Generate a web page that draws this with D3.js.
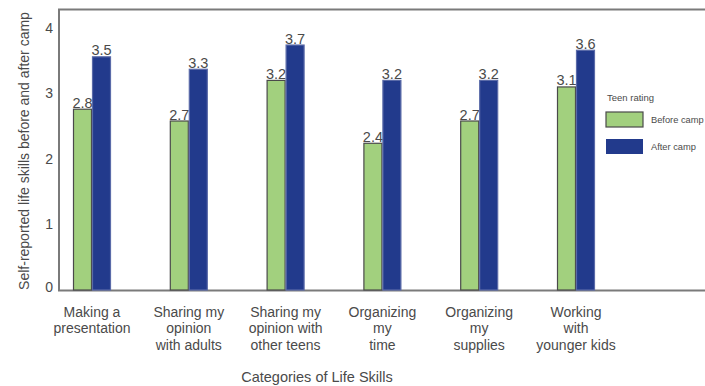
<!DOCTYPE html>
<html>
<head>
<meta charset="utf-8">
<script src="https://cdn.jsdelivr.net/npm/d3@7/dist/d3.min.js"></script>
<style>
  html, body { margin: 0; padding: 0; background: #fff; }
  svg { display: block; font-family: "Liberation Sans", Arial, sans-serif; }
</style>
</head>
<body>
<svg id="chart" width="705" height="386"></svg>
<script>
// ---- data ----
const categories = [
  ["Making a", "presentation"],
  ["Sharing my", "opinion", "with adults"],
  ["Sharing my", "opinion with", "other teens"],
  ["Organizing", "my", "time"],
  ["Organizing", "my", "supplies"],
  ["Working", "with", "younger kids"]
];
// bar heights as drawn in the picture
const beforeValues = [2.76, 2.58, 3.2, 2.24, 2.58, 3.1];
const afterValues  = [3.56, 3.37, 3.74, 3.2, 3.2, 3.66];
// value labels as printed
const beforeLabels = ["2.8", "2.7", "3.2", "2.4", "2.7", "3.1"];
const afterLabels  = ["3.5", "3.3", "3.7", "3.2", "3.2", "3.6"];
const seriesNames = ["Before camp", "After camp"];
const yTicks = [0, 1, 2, 3, 4];
const legendTitle = "Teen rating";
const yTitle = "Self-reported life skills before and after camp";
const xTitle = "Categories of Life Skills";

// ---- drawing ----
const svg = d3.select("#chart");
const colors = ["#a2d07e", "#223a8c"];
const strokes = ["#4a4a4a", "#5a6aa8"];
const textColor = "#4a4a4a";

const ids = categories.map((c, i) => "c" + i);
const x = d3.scaleBand().domain(ids).range([73, 595]).paddingInner(0.6074).paddingOuter(0);
const xs = d3.scaleBand().domain([0, 1]).range([0, x.bandwidth()]).padding(0);
const y = d3.scaleLinear().domain([0, 4]).range([290, 28]);

// frame
svg.append("path")
  .attr("d", "M720,9.5 H59 V290.5 H720")
  .attr("fill", "none").attr("stroke", "#7a7a7a").attr("stroke-width", 2);

// y tick labels
svg.append("g").selectAll("text").data(yTicks).join("text")
  .attr("x", 53).attr("y", d => y(d) + (d === 0 ? -3 : 0))
  .attr("dy", "0.35em").attr("text-anchor", "end")
  .attr("font-size", 14).attr("fill", textColor)
  .text(d => d);

// bars
const groups = svg.append("g").selectAll("g").data(categories).join("g")
  .attr("transform", (d, i) => `translate(${x(ids[i])},0)`);

groups.each(function(d, i) {
  const g = d3.select(this);
  const vals = [beforeValues[i], afterValues[i]];
  const labs = [beforeLabels[i], afterLabels[i]];
  vals.forEach((v, k) => {
    g.append("rect")
      .attr("x", xs(k) + 0.5).attr("y", y(v))
      .attr("width", xs.bandwidth() - 1).attr("height", y(0) - y(v))
      .attr("fill", colors[k]).attr("stroke", strokes[k]).attr("stroke-width", 1.2);
    g.append("text")
      .attr("x", xs(k) + xs.bandwidth() / 2).attr("y", y(v) - 1.5)
      .attr("text-anchor", "middle").attr("font-size", 14.5).attr("fill", textColor)
      .text(labs[k]);
  });
});

// category labels
svg.append("g").selectAll("text").data(categories).join("text")
  .attr("x", (d, i) => x(ids[i]) + x.bandwidth() / 2)
  .attr("y", 316.5)
  .attr("text-anchor", "middle").attr("font-size", 14).attr("fill", textColor)
  .each(function(d) {
    const t = d3.select(this);
    d.forEach((line, j) => {
      t.append("tspan").attr("x", t.attr("x")).attr("dy", j === 0 ? 0 : 16.5).text(line);
    });
  });

// axis titles
svg.append("text")
  .attr("transform", "translate(29,151) rotate(-90)")
  .attr("text-anchor", "middle").attr("font-size", 14).attr("fill", textColor)
  .text(yTitle);
svg.append("text")
  .attr("x", 317).attr("y", 381.5)
  .attr("text-anchor", "middle").attr("font-size", 14.5).attr("fill", textColor)
  .text(xTitle);

// legend
const lg = svg.append("g");
lg.append("text").attr("x", 607).attr("y", 101)
  .attr("font-size", 9.5).attr("fill", textColor).text(legendTitle);
seriesNames.forEach((name, k) => {
  const yy = 112 + k * 27;
  lg.append("rect").attr("x", 606).attr("y", yy).attr("width", 37).attr("height", 15)
    .attr("fill", colors[k]).attr("stroke", k === 0 ? "#4a4a4a" : "none").attr("stroke-width", 1.2);
  lg.append("text").attr("x", 651).attr("y", yy + 11)
    .attr("font-size", 9.3).attr("fill", textColor).text(name);
});
</script>
</body>
</html>
